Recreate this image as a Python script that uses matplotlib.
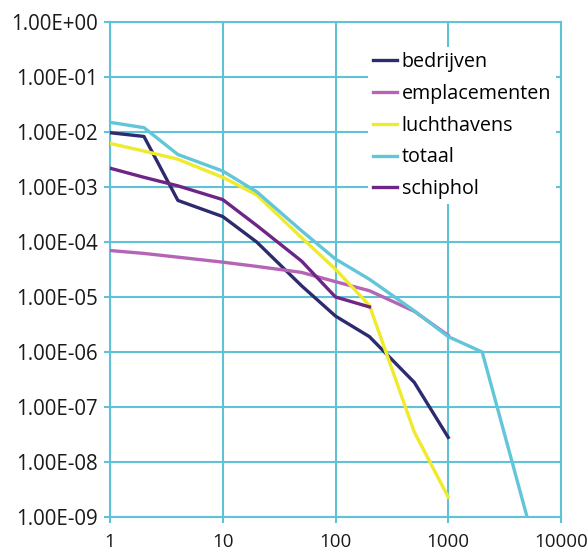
import matplotlib
matplotlib.use("Agg")
import matplotlib.pyplot as plt
from matplotlib.ticker import FixedLocator, FuncFormatter, NullLocator

plt.rcParams['font.family'] = ['Open Sans', 'DejaVu Sans']

# waarden
bedrijven_x = [1, 2, 4, 10, 20, 50, 100, 200, 500, 1000]
bedrijven_y = [9.7e-3, 8.3e-3, 5.7e-4, 2.9e-4, 1.0e-4, 1.6e-5, 4.5e-6, 1.9e-6, 2.8e-7, 2.8e-8]

emplacementen_x = [1, 2, 4, 10, 20, 50, 100, 200, 500, 1000]
emplacementen_y = [7.0e-5, 6.2e-5, 5.3e-5, 4.3e-5, 3.6e-5, 2.8e-5, 1.9e-5, 1.3e-5, 5.5e-6, 2.0e-6]

luchthavens_x = [1, 2, 4, 10, 20, 50, 100, 200, 500, 1000]
luchthavens_y = [6.2e-3, 4.5e-3, 3.2e-3, 1.5e-3, 7.2e-4, 1.2e-4, 3.2e-5, 7.0e-6, 3.5e-8, 2.3e-9]

totaal_x = [1, 2, 4, 10, 20, 50, 100, 200, 500, 1000, 2000, 5000]
totaal_y = [1.5e-2, 1.2e-2, 3.9e-3, 1.95e-3, 8.2e-4, 1.6e-4, 4.9e-5, 2.1e-5, 5.6e-6, 1.9e-6, 1.0e-6, 1.0e-9]

schiphol_x = [1, 2, 4, 10, 20, 50, 100, 200]
schiphol_y = [2.2e-3, 1.5e-3, 1.05e-3, 5.9e-4, 2.0e-4, 4.5e-5, 1.0e-5, 6.6e-6]

x_ticks = [1, 10, 100, 1000, 10000]
y_ticks = [1e-9, 1e-8, 1e-7, 1e-6, 1e-5, 1e-4, 1e-3, 1e-2, 1e-1, 1e0]

grid_color = '#5ec3d6'

fig = plt.figure(figsize=(5.88, 5.53), dpi=100)
ax = fig.add_axes([110 / 588, 1 - 517 / 553, 451 / 588, 495 / 553])

series = [
    (bedrijven_x, bedrijven_y, 'bedrijven', '#2d2a6e'),
    (emplacementen_x, emplacementen_y, 'emplacementen', '#b564b6'),
    (luchthavens_x, luchthavens_y, 'luchthavens', '#f0ea2c'),
    (totaal_x, totaal_y, 'totaal', '#62c6d9'),
    (schiphol_x, schiphol_y, 'schiphol', '#6e2586'),
]
for xs, ys, name, col in series:
    ax.plot(xs, ys, color=col, lw=2.4, label=name, solid_joinstyle='round', zorder=3)

ax.set_xscale('log')
ax.set_yscale('log')
ax.set_xlim(1, 10000)
ax.set_ylim(1e-9, 1)

ax.xaxis.set_major_locator(FixedLocator(x_ticks))
ax.yaxis.set_major_locator(FixedLocator(y_ticks))
ax.xaxis.set_minor_locator(NullLocator())
ax.yaxis.set_minor_locator(NullLocator())
ax.xaxis.set_major_formatter(FuncFormatter(lambda v, p: f"{v:.0f}"))
ax.yaxis.set_major_formatter(FuncFormatter(lambda v, p: f"{v:.2E}"))

ax.grid(True, color=grid_color, lw=1.5, zorder=1)
for s in ax.spines.values():
    s.set_color(grid_color)
    s.set_linewidth(1.5)
ax.tick_params(axis='both', color=grid_color, width=1.5, length=4.5, labelcolor='#1a1a1a')
ax.tick_params(axis='y', pad=4, labelsize=14.8)
ax.tick_params(axis='x', pad=7, labelsize=13.5)

leg = ax.legend(loc='upper left', bbox_to_anchor=((368 - 110) / 451, (517 - 47) / 495),
                borderaxespad=0, fontsize=14.2, handlelength=1.2, handletextpad=0.25,
                labelspacing=0.6, frameon=True, fancybox=False, borderpad=0.25)
leg.get_frame().set_edgecolor('none')
leg.get_frame().set_facecolor('white')
leg.get_frame().set_alpha(1)
leg.set_zorder(5)

plt.savefig('out.png', dpi=100)
